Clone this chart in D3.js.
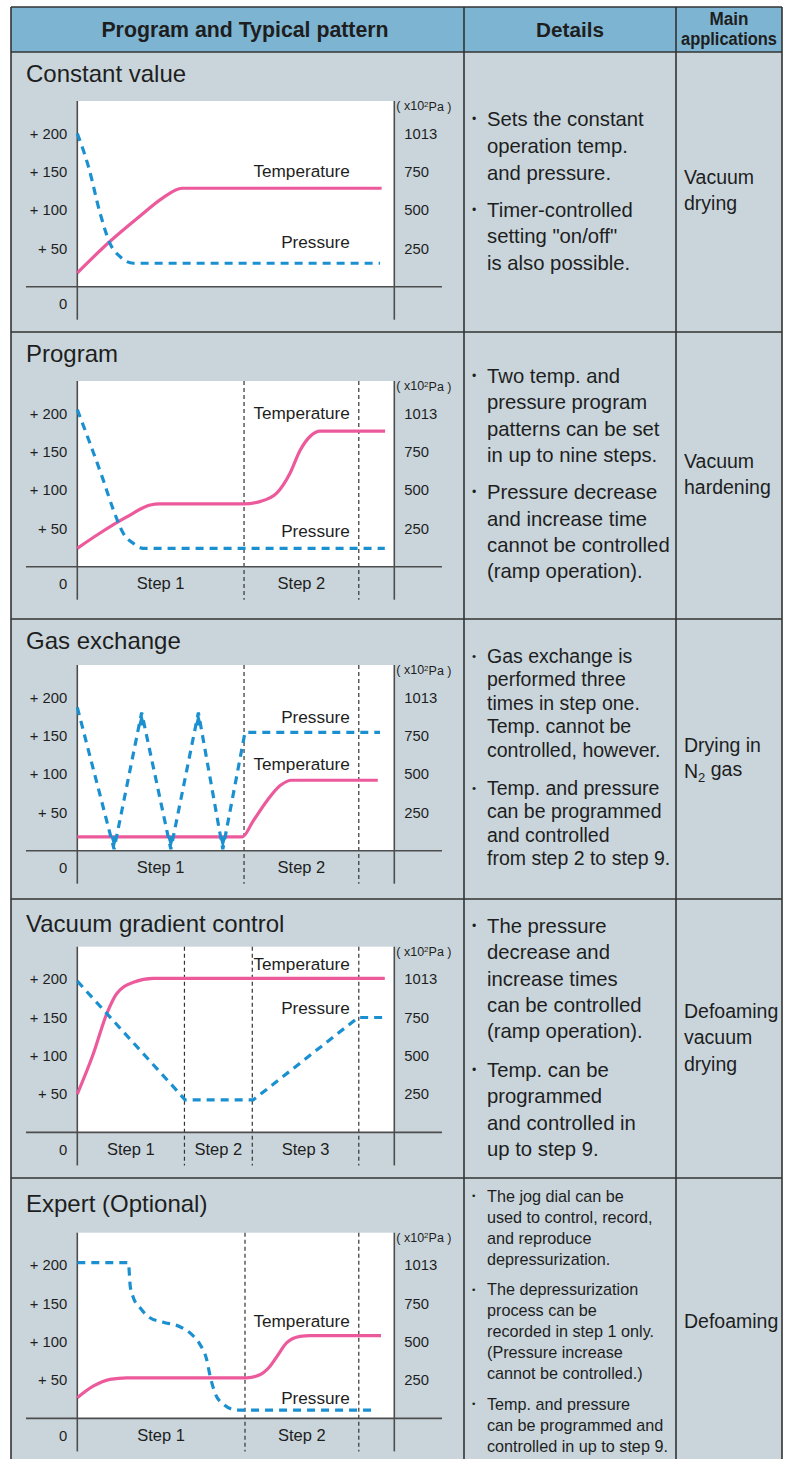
<!DOCTYPE html>
<html>
<head>
<meta charset="utf-8">
<script src="https://cdn.jsdelivr.net/npm/d3@7"></script>
<style>
  body { margin: 0; background: #fff; }
  svg { display: block; font-family: "Liberation Sans", Arial, Helvetica, sans-serif; }
</style>
</head>
<body>
<div id="chart"></div>
<script>
// ---- data ----
// time runs 0..100 across each plot, temperature in deg C, pressure in x10^2 Pa
const panelTitles = ["Constant value", "Program", "Gas exchange", "Vacuum gradient control", "Expert (Optional)"];
const tempTicks = [50, 100, 150, 200];
const tempTickLabels = ["+ 50", "+ 100", "+ 150", "+ 200"];
const pressTicks = [250, 500, 750, 1013];

const constTemp = [[0, 18], [10, 58], [20, 93], [27, 116], [33, 128.5], [96, 128.5]];
const constPress = [[0, 1013], [3.5, 787], [7.2, 479], [10.3, 283], [13.5, 196], [17.7, 153], [95.5, 153]];

const progTemp = [[0, 24], [7.2, 44], [15.6, 65], [23, 80.5], [26, 82], [52.4, 82], [57.6, 85], [62.9, 96],
  [67.1, 122], [70.3, 152], [73.4, 170], [76.6, 177], [97.1, 177]];
const progPress = [[0, 1040], [4, 808], [8.2, 565], [11.4, 370], [14.5, 218], [17.7, 152], [20.8, 120], [97, 120]];
const progSteps = [52.6, 88.8];

const gasTemp = [[0, 18], [52, 18], [55.5, 39], [59.8, 65], [64, 85], [67.6, 92], [94.8, 92]];
const gasPress = [[0, 945], [11.6, 10], [20.3, 910], [29.5, 10], [38.2, 910], [45.9, 10], [52.9, 773], [95.5, 773]];
const gasArrows = [1, 2, 3, 4, 5]; // indexes of gasPress points that carry an arrow head
const gasSteps = [52.6, 88.8];

const vacTemp = [[0, 50], [5, 102], [9.3, 155], [12.4, 181], [17.7, 196], [24, 201], [97, 201]];
const vacPress = [[0, 1000], [32.4, 250], [34, 212], [55.5, 212], [88.6, 750], [97, 750]];
const vacSteps = [33.8, 55.2, 88.8];

const expTemp = [[0, 27], [5, 42], [10.3, 51], [15.6, 53], [53.4, 53], [57.6, 57], [60.8, 68], [63, 81],
  [66.1, 99], [70.3, 107], [73.4, 108], [95.8, 108]];
const expPress = [[0, 1030], [16.1, 1030], [16.7, 869], [17.7, 789], [19.8, 722], [22.9, 657], [27.1, 628],
  [32.4, 598], [36.1, 548], [38.7, 483], [40.8, 385], [41.9, 276], [43.4, 168], [46.1, 92], [50.3, 54], [94.4, 54]];
const expSteps = [52.9, 88.8];

const stepNames = ["Step 1", "Step 2", "Step 3"];

const constDetails = [["Sets the constant", "operation temp.", "and pressure."],
  ["Timer-controlled", "setting \"on/off\"", "is also possible."]];
const progDetails = [["Two temp. and", "pressure program", "patterns can be set", "in up to nine steps."],
  ["Pressure decrease", "and increase time", "cannot be controlled", "(ramp operation)."]];
const gasDetails = [["Gas exchange is", "performed three", "times in step one.", "Temp. cannot be", "controlled, however."],
  ["Temp. and pressure", "can be programmed", "and controlled", "from step 2 to step 9."]];
const vacDetails = [["The pressure", "decrease and", "increase times", "can be controlled", "(ramp operation)."],
  ["Temp. can be", "programmed", "and controlled in", "up to step 9."]];
const expDetails = [["The jog dial can be", "used to control, record,", "and reproduce", "depressurization."],
  ["The depressurization", "process can be", "recorded in step 1 only.", "(Pressure increase", "cannot be controlled.)"],
  ["Temp. and pressure", "can be programmed and", "controlled in up to step 9."]];

const applications = [["Vacuum", "drying"], ["Vacuum", "hardening"], ["Drying in", "N|2| gas"],
  ["Defoaming", "vacuum", "drying"], ["Defoaming"]];

// ---- layout ----
const colors = {
  header: "#7db4d2",
  panel: "#c9d5db",
  grid: "#333",
  axis: "#4d4d4d",
  temp: "#ec5a9c",
  press: "#1b90d1",
  text: "#1e1e1e"
};

const panels = [
  {temp: constTemp, press: constPress, pressCurve: d3.curveMonotoneX, steps: [], details: constDetails,
   rowTop: 52, titleY: 74, plotTop: 101, detailY: 119, lh: 26.8, gap: 10, fs: 20.3, appY: 177,
   tLabel: 151, pLabel: 58.7},
  {temp: progTemp, press: progPress, pressCurve: d3.curveMonotoneX, steps: progSteps, details: progDetails,
   rowTop: 332, titleY: 354, plotTop: 381, detailY: 376, lh: 26.3, gap: 11, fs: 20.3, appY: 461,
   tLabel: 200.3, pLabel: 47},
  {temp: gasTemp, press: gasPress, pressCurve: d3.curveLinear, steps: gasSteps, details: gasDetails, arrows: gasArrows,
   rowTop: 619, titleY: 641, plotTop: 665, detailY: 656, lh: 23.5, gap: 14.5, fs: 19.5, appY: 745,
   tLabel: 113, pLabel: 174},
  {temp: vacTemp, press: vacPress, pressCurve: d3.curveLinear, steps: vacSteps, details: vacDetails,
   rowTop: 899, titleY: 924, plotTop: 946.7, detailY: 926, lh: 26.3, gap: 12.5, fs: 20.3, appY: 1011,
   tLabel: 219.8, pLabel: 162.4},
  {temp: expTemp, press: expPress, pressCurve: d3.curveMonotoneX, steps: expSteps, details: expDetails,
   rowTop: 1178, titleY: 1204, plotTop: 1232.7, detailY: 1196, lh: 21, gap: 9.5, fs: 16.2, appY: 1321,
   tLabel: 127, pLabel: 27}
];

const width = 790, height = 1459;
const tableL = 11, tableR = 782, tableT = 7, col1 = 464, col2 = 676;

const svg = d3.select("#chart").append("svg")
    .attr("width", width)
    .attr("height", height)
    .attr("viewBox", [0, 0, width, height]);

svg.append("rect").attr("x", tableL).attr("y", tableT).attr("width", tableR - tableL).attr("height", 52 - tableT)
    .attr("fill", colors.header);
svg.append("rect").attr("x", tableL).attr("y", 52).attr("width", tableR - tableL).attr("height", height)
    .attr("fill", colors.panel);

// header text
const head = svg.append("g").attr("font-weight", "bold").attr("fill", colors.text).attr("text-anchor", "middle");
head.append("text").attr("x", 245).attr("y", 30).attr("dy", "0.35em").attr("font-size", 21.3)
    .text("Program and Typical pattern");
head.append("text").attr("x", 570).attr("y", 30).attr("dy", "0.35em").attr("font-size", 20.7).text("Details");
head.append("text").attr("x", 729).attr("y", 18.5).attr("dy", "0.35em").attr("font-size", 17.5)
    .attr("textLength", 39).attr("lengthAdjust", "spacingAndGlyphs").text("Main");
head.append("text").attr("x", 729).attr("y", 38.5).attr("dy", "0.35em").attr("font-size", 17.5)
    .attr("textLength", 96).attr("lengthAdjust", "spacingAndGlyphs").text("applications");

panels.forEach((p, i) => drawPanel(p, i));

// table grid on top
const grid = svg.append("g").attr("stroke", colors.grid).attr("stroke-width", 1.6).attr("fill", "none");
grid.selectAll("line.h")
  .data([tableT, 52, ...panels.slice(1).map(d => d.rowTop)])
  .join("line")
    .attr("x1", tableL).attr("x2", tableR)
    .attr("y1", d => d).attr("y2", d => d);
grid.selectAll("line.v")
  .data([tableL, col1, col2, tableR])
  .join("line")
    .attr("x1", d => d).attr("x2", d => d)
    .attr("y1", tableT).attr("y2", height + 5);

function drawPanel(p, i) {
  const g = svg.append("g");
  const top = p.plotTop;
  const axisY = top + 185.7;

  const x = d3.scaleLinear().domain([0, 100]).range([77.3, 394.3]);
  const y = d3.scaleLinear().domain([0, 200]).range([axisY, axisY - 153.2]);
  const yp = d3.scaleLinear().domain([0, ...pressTicks]).range([y(0), ...tempTicks.map(y)]);

  g.append("text")
      .attr("x", 26).attr("y", p.titleY).attr("dy", "0.35em")
      .attr("font-size", 24).attr("fill", colors.text)
      .text(panelTitles[i]);

  g.append("rect")
      .attr("x", x(0)).attr("y", top)
      .attr("width", x(100) - x(0)).attr("height", axisY - top)
      .attr("fill", "#fff");

  // step separators
  g.selectAll("line.step")
    .data(p.steps)
    .join("line")
      .attr("x1", d => x(d)).attr("x2", d => x(d))
      .attr("y1", top).attr("y2", axisY + 33)
      .attr("stroke", "#333").attr("stroke-width", 1.2)
      .attr("stroke-dasharray", "4,3");

  const bounds = [0, ...p.steps];
  g.selectAll("text.step")
    .data(p.steps)
    .join("text")
      .attr("x", (d, k) => (x(bounds[k]) + x(d)) / 2)
      .attr("y", axisY + 17).attr("dy", "0.35em")
      .attr("text-anchor", "middle").attr("font-size", 16.5).attr("fill", colors.text)
      .text((d, k) => stepNames[k]);

  // axes
  const ax = g.append("g").attr("stroke", colors.axis).attr("stroke-width", 1.6);
  ax.append("line").attr("x1", x(0)).attr("x2", x(0)).attr("y1", top).attr("y2", axisY + 33);
  ax.append("line").attr("x1", x(100)).attr("x2", x(100)).attr("y1", top).attr("y2", axisY + 33);
  ax.append("line").attr("x1", 26).attr("x2", 442).attr("y1", axisY).attr("y2", axisY);

  const left = g.append("g")
      .attr("transform", `translate(${x(0)},0)`)
      .call(d3.axisLeft(y).tickValues(tempTicks).tickSize(0).tickPadding(10)
        .tickFormat((d, k) => tempTickLabels[k]));
  const right = g.append("g")
      .attr("transform", `translate(${x(100)},0)`)
      .call(d3.axisRight(yp).tickValues(pressTicks).tickSize(0).tickPadding(10)
        .tickFormat(d => String(d)));
  [left, right].forEach(a => {
    a.select(".domain").remove();
    a.selectAll("text").attr("font-size", 14.8).attr("fill", colors.text)
        .attr("font-family", "Liberation Sans, Arial, sans-serif");
  });
  g.append("text")
      .attr("x", x(0) - 10).attr("y", axisY + 17).attr("dy", "0.35em")
      .attr("text-anchor", "end").attr("font-size", 14.8).attr("fill", colors.text)
      .text("0");

  const unit = g.append("text")
      .attr("x", x(100) + 2).attr("y", top + 5).attr("dy", "0.35em")
      .attr("font-size", 12.5).attr("fill", colors.text);
  unit.append("tspan").text("( x10");
  unit.append("tspan").attr("font-size", 8).attr("dy", "-0.45em").text("2");
  unit.append("tspan").attr("dy", "0.3em").text("Pa )");

  // curves
  const tempLine = d3.line().x(d => x(d[0])).y(d => y(d[1])).curve(d3.curveMonotoneX);
  const pressLine = d3.line().x(d => x(d[0])).y(d => yp(d[1])).curve(p.pressCurve);

  g.append("path")
      .attr("d", tempLine(p.temp))
      .attr("fill", "none").attr("stroke", colors.temp).attr("stroke-width", 3.2);

  g.append("path")
      .attr("d", pressLine(p.press))
      .attr("fill", "none").attr("stroke", colors.press).attr("stroke-width", 3.2)
      .attr("stroke-dasharray", "8,6");

  if (p.arrows) {
    g.selectAll("path.arrow")
      .data(p.arrows)
      .join("path")
        .attr("d", k => {
          const [t, v] = p.press[k];
          const px = x(t), py = yp(v);
          const dir = v < p.press[k - 1][1] ? -1 : 1; // down or up
          return `M${px},${py}L${px - 3.5},${py + dir * 13}L${px + 3.5},${py + dir * 13}Z`;
        })
        .attr("fill", colors.press);
  }

  g.append("text")
      .attr("x", x(86)).attr("y", y(p.tLabel)).attr("dy", "0.35em")
      .attr("text-anchor", "end").attr("font-size", 17.2).attr("fill", colors.text)
      .text("Temperature");
  g.append("text")
      .attr("x", x(86)).attr("y", y(p.pLabel)).attr("dy", "0.35em")
      .attr("text-anchor", "end").attr("font-size", 17.2).attr("fill", colors.text)
      .text("Pressure");

  // details column
  let yy = p.detailY;
  const det = g.append("g").attr("fill", colors.text).attr("font-size", p.fs);
  p.details.forEach(bullet => {
    det.append("text").attr("x", 472).attr("y", yy).attr("dy", "0.35em")
        .attr("font-size", p.fs * 0.6).text("•");
    bullet.forEach(line => {
      det.append("text").attr("x", 487).attr("y", yy).attr("dy", "0.35em").text(line);
      yy += p.lh;
    });
    yy += p.gap;
  });

  // main applications
  const app = g.append("g").attr("fill", colors.text).attr("font-size", 19.5);
  applications[i].forEach((line, k) => {
    const t = app.append("text").attr("x", 684).attr("y", p.appY + k * 26.5).attr("dy", "0.35em");
    line.split("|").forEach((part, j) => {
      if (j === 1) t.append("tspan").attr("font-size", 13).attr("dy", "0.3em").text(part);
      else if (j === 2) t.append("tspan").attr("dy", "-0.3em").text(part);
      else t.append("tspan").text(part);
    });
  });
}
</script>
</body>
</html>
